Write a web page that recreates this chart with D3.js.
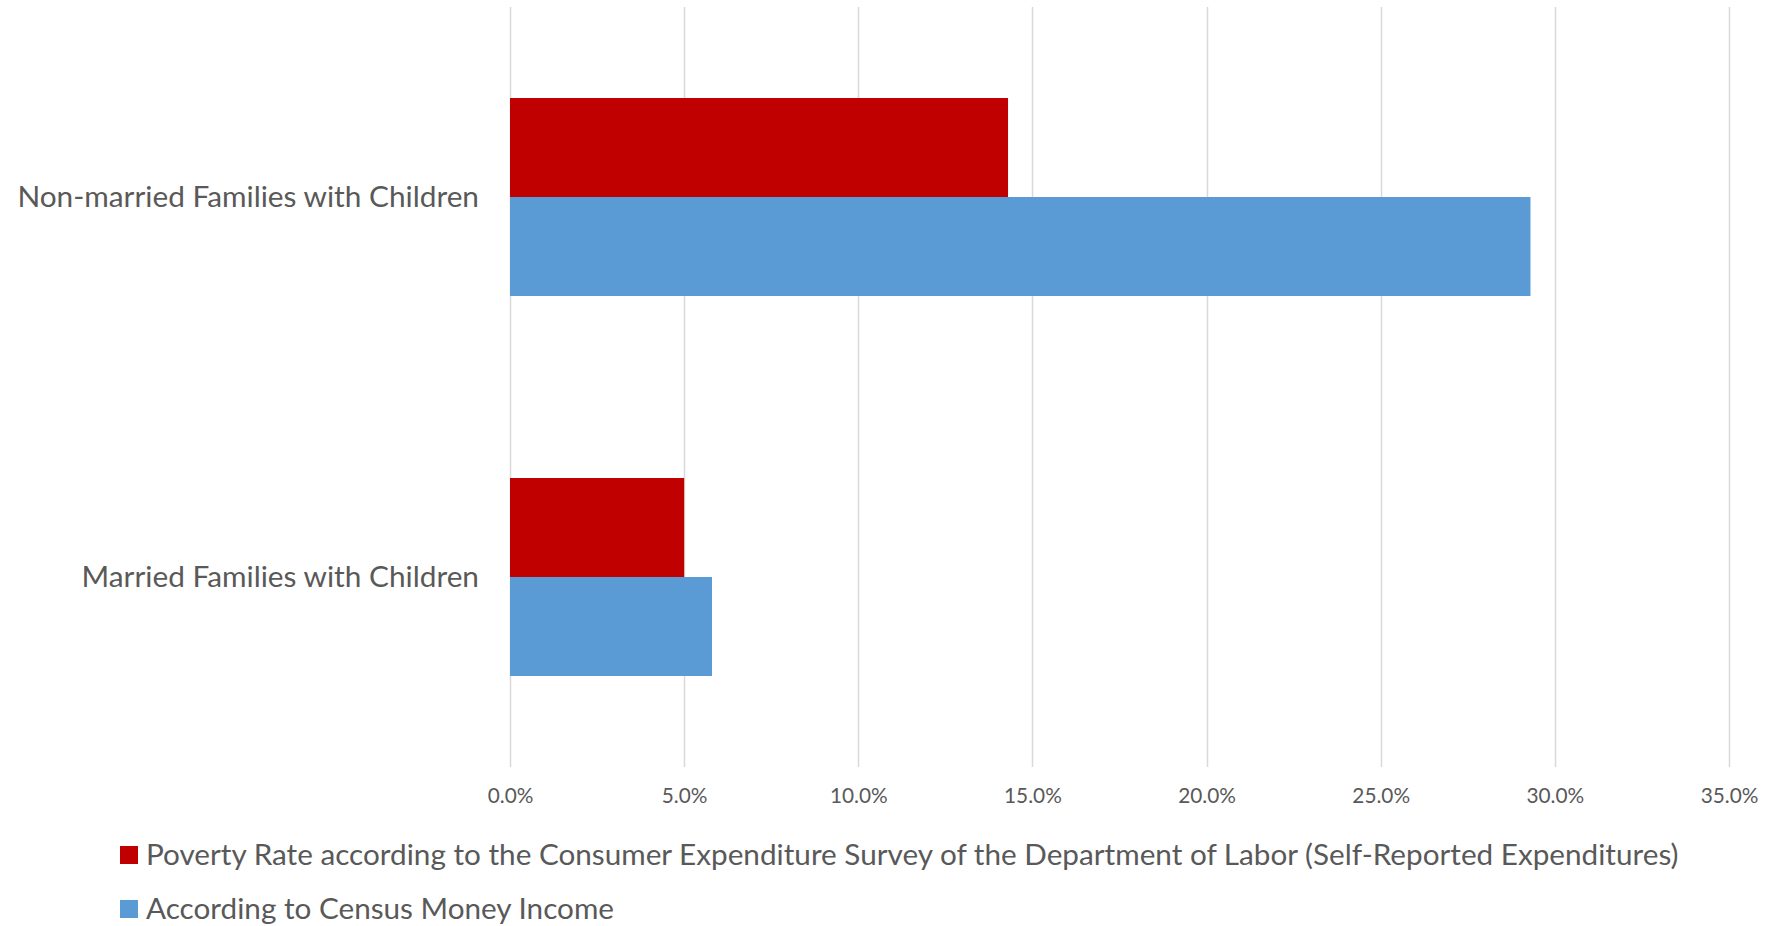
<!DOCTYPE html>
<html>
<head>
<meta charset="utf-8">
<script src="https://cdn.jsdelivr.net/npm/d3@7"></script>
<style>
  html, body { margin: 0; padding: 0; background: #ffffff; }
  svg { display: block; font-family: Lato, "Open Sans", sans-serif; }
</style>
</head>
<body>
<script>
// bar chart, two series per category
const categories = ['Non-married Families with Children', 'Married Families with Children']
const seriesNames = [
  'Poverty Rate according to the Consumer Expenditure Survey of the Department of Labor (Self-Reported Expenditures)',
  'According to Census Money Income'
]
const seriesColors = ['#c00000', '#5b9bd5']
const expenditureRates = [0.143, 0.050]
const censusRates = [0.293, 0.058]
const tickValues = [0, 0.05, 0.10, 0.15, 0.20, 0.25, 0.30, 0.35]

const W = 1770
const H = 926
const textColor = '#595959'

const rows = categories.map((c, i) => ({
  name: c,
  values: [expenditureRates[i], censusRates[i]]
}))

const svg = d3.select('body').append('svg')
  .attr('width', W)
  .attr('height', H)

const x = d3.scaleLinear().domain([0, 0.35]).range([510, 1729])
const y = d3.scaleBand().domain(categories).range([7, 767])
  .paddingInner(0.479).paddingOuter(0.2395)
const ySub = d3.scaleBand().domain(d3.range(seriesNames.length)).range([0, y.bandwidth()])

// gridlines
svg.append('g')
  .selectAll('line')
  .data(tickValues)
  .enter()
  .append('line')
  .attr('x1', (d) => Math.round(x(d)) + 0.5)
  .attr('x2', (d) => Math.round(x(d)) + 0.5)
  .attr('y1', 7)
  .attr('y2', 767)
  .attr('stroke', '#d9d9d9')
  .attr('stroke-width', 1.5)

// tick labels
const xAxis = d3.axisBottom(x).tickValues(tickValues).tickFormat(d3.format('.1%')).tickSize(0).tickPadding(0)
const axG = svg.append('g').attr('transform', 'translate(0,' + 788 + ')').call(xAxis)
axG.select('.domain').remove()
axG.selectAll('text')
  .attr('fill', textColor)
  .attr('font-size', '20.8px')
  .attr('font-family', 'Lato, sans-serif')

// bars
const groups = svg.selectAll('.cat')
  .data(rows)
  .enter()
  .append('g')
  .attr('class', 'cat')
  .attr('transform', (d) => 'translate(0,' + y(d.name) + ')')

groups.selectAll('rect')
  .data((d) => d.values.map((v, i) => ({ v, i })))
  .enter()
  .append('rect')
  .attr('x', x(0))
  .attr('y', (d) => ySub(d.i))
  .attr('width', (d) => x(d.v) - x(0))
  .attr('height', ySub.bandwidth())
  .attr('fill', (d) => seriesColors[d.i])

// category labels
const yAxis = d3.axisLeft(y).tickSize(0).tickPadding(0)
const ayG = svg.append('g').attr('transform', 'translate(479,0)').call(yAxis)
ayG.select('.domain').remove()
ayG.selectAll('text')
  .attr('fill', textColor)
  .attr('font-size', '29.8px')
  .attr('font-family', 'Lato, sans-serif')

// legend
const legend = svg.selectAll('.legend')
  .data(seriesNames)
  .enter()
  .append('g')
  .attr('class', 'legend')
  .attr('transform', (d, i) => 'translate(120,' + (846 + i * 54) + ')')

legend.append('rect')
  .attr('width', 18)
  .attr('height', 18)
  .attr('fill', (d, i) => seriesColors[i])

legend.append('text')
  .attr('x', 26)
  .attr('y', 9)
  .attr('dy', '0.35em')
  .attr('fill', textColor)
  .attr('font-size', '29.7px')
  .text((d) => d)
</script>
</body>
</html>
